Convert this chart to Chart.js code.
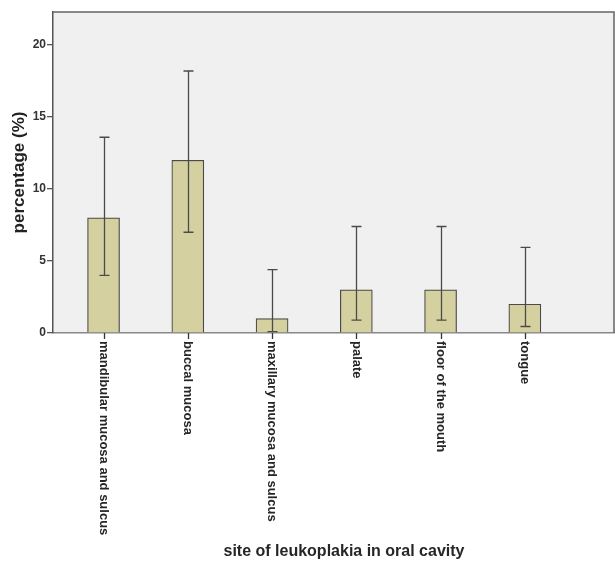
<!DOCTYPE html>
<html>
<head>
<meta charset="utf-8">
<script src="https://cdn.jsdelivr.net/npm/chart.js@4"></script>
<style>
  body { margin: 0; background: #fff; }
  #wrap { width: 615px; height: 565px; }
</style>
</head>
<body>
<div id="wrap"><canvas id="chart" width="615" height="565"></canvas></div>
<script>
const categories = ['mandibular mucosa and sulcus', 'buccal mucosa', 'maxillary mucosa and sulcus', 'palate', 'floor of the mouth', 'tongue'];
const percentages = [8, 12, 1, 3, 3, 2];
const ciLower = [4.0, 7.0, 0.1, 0.9, 0.9, 0.45];
const ciUpper = [13.6, 18.2, 4.4, 7.4, 7.4, 5.95];
const yTicks = [0, 5, 10, 15, 20];

const FONT = "'Liberation Sans', Arial, sans-serif";

// background, error bars, rotated labels
const spssLook = {
  id: 'spssLook',
  beforeDraw(chart) {
    const { ctx, chartArea: a } = chart;
    ctx.save();
    ctx.fillStyle = '#fff';
    ctx.fillRect(0, 0, chart.width, chart.height);
    ctx.fillStyle = '#f0f0f0';
    ctx.fillRect(a.left, a.top, a.right - a.left, a.bottom - a.top);
    ctx.restore();
  },
  afterDatasetsDraw(chart) {
    const { ctx, scales: { x, y } } = chart;
    ctx.save();
    ctx.strokeStyle = '#4a4a4a';
    ctx.lineWidth = 1.3;
    categories.forEach((c, i) => {
      const px = Math.round(x.getPixelForValue(i)) + 0.5;
      const lo = y.getPixelForValue(ciLower[i]);
      const hi = y.getPixelForValue(ciUpper[i]);
      ctx.beginPath();
      ctx.moveTo(px, hi); ctx.lineTo(px, lo);
      ctx.moveTo(px - 5, hi); ctx.lineTo(px + 5, hi);
      ctx.moveTo(px - 5, lo); ctx.lineTo(px + 5, lo);
      ctx.stroke();
    });
    ctx.restore();
  },
  afterDraw(chart) {
    const { ctx, chartArea: a, scales: { x } } = chart;
    ctx.save();
    // frame top/right
    ctx.strokeStyle = '#666';
    ctx.lineWidth = 1.5;
    ctx.beginPath();
    ctx.moveTo(a.left, a.top); ctx.lineTo(a.right - 1, a.top); ctx.lineTo(a.right - 1, a.bottom);
    ctx.stroke();

    // tick marks under each bar
    ctx.strokeStyle = '#333';
    ctx.lineWidth = 1.3;
    categories.forEach((c, i) => {
      const px = Math.round(x.getPixelForValue(i)) + 0.5;
      ctx.beginPath();
      ctx.moveTo(px, a.bottom);
      ctx.lineTo(px, a.bottom + 6);
      ctx.stroke();
    });

    // category labels read top to bottom
    ctx.fillStyle = '#262626';
    ctx.font = 'bold 13px ' + FONT;
    ctx.textAlign = 'left';
    ctx.textBaseline = 'middle';
    categories.forEach((c, i) => {
      ctx.save();
      ctx.translate(x.getPixelForValue(i), a.bottom + 8);
      ctx.rotate(Math.PI / 2);
      ctx.fillText(c, 0, 0);
      ctx.restore();
    });

    ctx.font = 'bold 16px ' + FONT;
    ctx.textAlign = 'center';
    ctx.fillText('site of leukoplakia in oral cavity', (a.left + a.right) / 2 + 10, 552);
    ctx.restore();
  }
};

new Chart(document.getElementById('chart'), {
  type: 'bar',
  data: {
    datasets: [{
      data: percentages.map((v, i) => ({ x: i, y: v })),
      backgroundColor: '#d5d0a0',
      borderColor: '#4a4a4a',
      borderWidth: 1.2,
      barThickness: 32
    }]
  },
  options: {
    responsive: false,
    animation: false,
    layout: { padding: { top: 12, left: 0, right: 0, bottom: 0 } },
    plugins: { legend: { display: false }, tooltip: { enabled: false } },
    scales: {
      x: {
        type: 'linear',
        offset: false,
        min: -0.6,
        max: 6.07,
        afterBuildTicks: (s) => { s.ticks = categories.map((c, i) => ({ value: i })); },
        afterFit: (s) => { s.height = 232; },
        ticks: { display: false },
        grid: { display: false },
        border: { display: true, color: '#888', width: 1.5 }
      },
      y: {
        min: 0,
        max: 22.3,
        afterBuildTicks: (s) => { s.ticks = yTicks.map(v => ({ value: v })); },
        afterFit: (s) => { s.width = 53; },
        ticks: { font: { family: FONT, size: 12, weight: 'bold' }, color: '#333', padding: 1 },
        grid: { drawOnChartArea: false, drawTicks: true, tickLength: 6, color: '#555', lineWidth: 1.3 },
        border: { display: true, color: '#555', width: 1.5 },
        title: {
          display: true,
          text: 'percentage (%)',
          color: '#222',
          font: { family: FONT, size: 17, weight: 'bold' },
          padding: { top: 9, bottom: 0 }
        }
      }
    }
  },
  plugins: [spssLook]
});
</script>
</body>
</html>
